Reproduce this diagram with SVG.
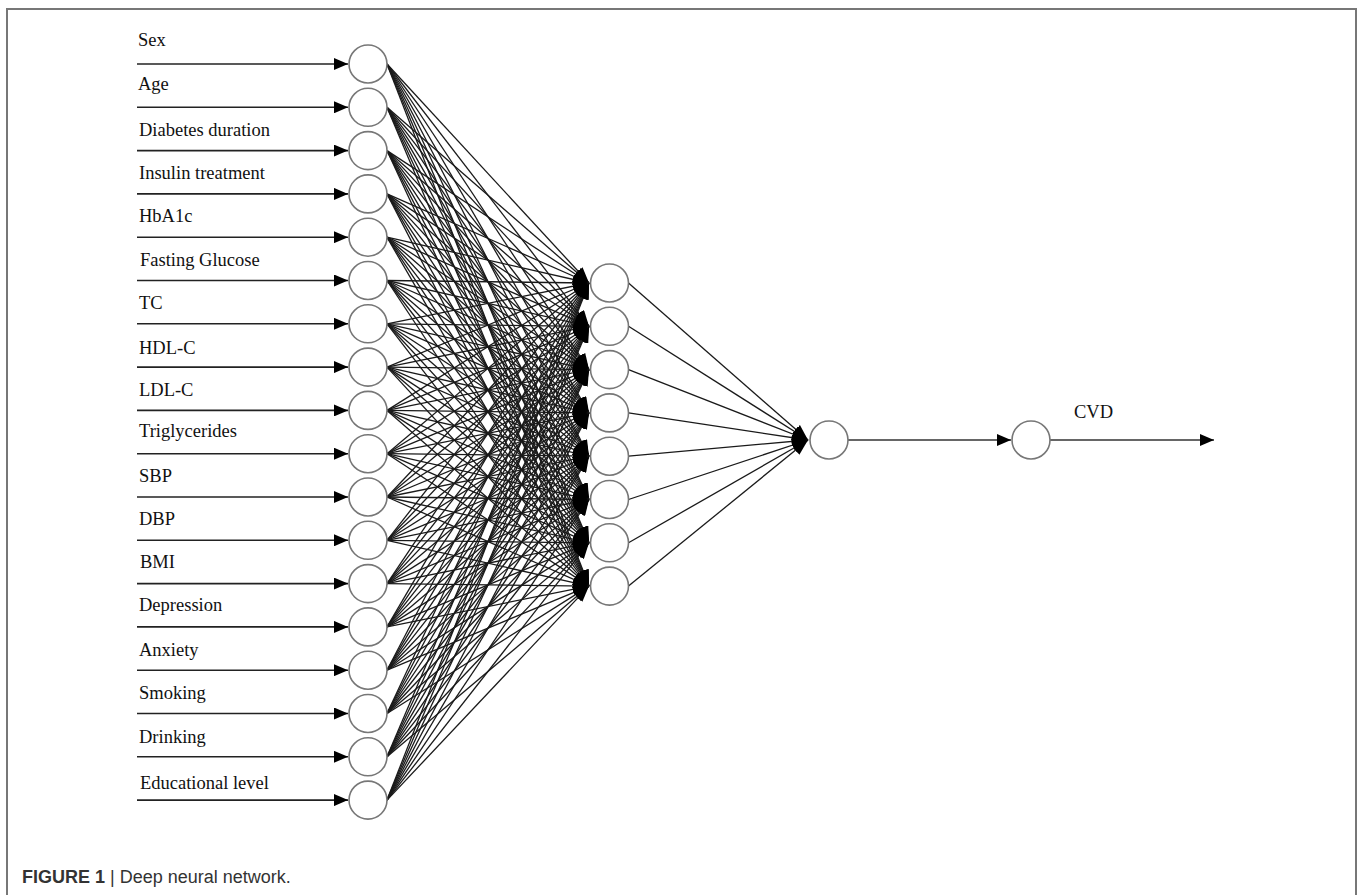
<svg xmlns="http://www.w3.org/2000/svg" width="1360" height="895" viewBox="0 0 1360 895">
<defs>
<marker id="a" viewBox="0 0 16 12" refX="16" refY="6" markerWidth="16" markerHeight="12" markerUnits="userSpaceOnUse" orient="auto"><path d="M0,0 L16,6 L0,12 z" fill="#000"/></marker>
<marker id="b" viewBox="0 0 14 12" refX="14" refY="6" markerWidth="14" markerHeight="12" markerUnits="userSpaceOnUse" orient="auto"><path d="M0,0 L14,6 L0,12 z" fill="#000"/></marker>
</defs>
<style>
.frame{fill:none;stroke:#777;stroke-width:2}
.lbl{font-family:"Liberation Serif","Times New Roman",serif;font-size:18.5px;fill:#111}
.in line{stroke:#222;stroke-width:1.6;marker-end:url(#b)}
.c line{stroke:#1a1a1a;stroke-width:1.3;marker-end:url(#a)}
.o line{stroke:#333;stroke-width:1.4;marker-end:url(#b)}
.n circle{fill:#fff;stroke:#777;stroke-width:1.6}
.cap{font-family:"Liberation Sans",Arial,sans-serif;font-size:18px;fill:#333}
</style>
<rect width="1360" height="895" fill="#fff"/>
<path class="frame" d="M7,895 V9 H1356 V895"/>
<g id="connectors">
<g class="in">
<line x1="137" y1="64" x2="348" y2="64"/>
<line x1="137" y1="107.3" x2="348" y2="107.3"/>
<line x1="137" y1="150.6" x2="348" y2="150.6"/>
<line x1="137" y1="193.9" x2="348" y2="193.9"/>
<line x1="137" y1="237.2" x2="348" y2="237.2"/>
<line x1="137" y1="280.5" x2="348" y2="280.5"/>
<line x1="137" y1="323.8" x2="348" y2="323.8"/>
<line x1="137" y1="367.1" x2="348" y2="367.1"/>
<line x1="137" y1="410.4" x2="348" y2="410.4"/>
<line x1="137" y1="453.7" x2="348" y2="453.7"/>
<line x1="137" y1="497" x2="348" y2="497"/>
<line x1="137" y1="540.3" x2="348" y2="540.3"/>
<line x1="137" y1="583.6" x2="348" y2="583.6"/>
<line x1="137" y1="626.9" x2="348" y2="626.9"/>
<line x1="137" y1="670.2" x2="348" y2="670.2"/>
<line x1="137" y1="713.5" x2="348" y2="713.5"/>
<line x1="137" y1="756.8" x2="348" y2="756.8"/>
<line x1="137" y1="800.1" x2="348" y2="800.1"/>
</g>
<g class="c">
<line x1="387" y1="64" x2="589" y2="283"/><line x1="387" y1="64" x2="589" y2="326.3"/><line x1="387" y1="64" x2="589" y2="369.6"/><line x1="387" y1="64" x2="589" y2="412.9"/><line x1="387" y1="64" x2="589" y2="456.2"/><line x1="387" y1="64" x2="589" y2="499.5"/><line x1="387" y1="64" x2="589" y2="542.8"/><line x1="387" y1="64" x2="589" y2="586.1"/>
<line x1="387" y1="107.3" x2="589" y2="283"/><line x1="387" y1="107.3" x2="589" y2="326.3"/><line x1="387" y1="107.3" x2="589" y2="369.6"/><line x1="387" y1="107.3" x2="589" y2="412.9"/><line x1="387" y1="107.3" x2="589" y2="456.2"/><line x1="387" y1="107.3" x2="589" y2="499.5"/><line x1="387" y1="107.3" x2="589" y2="542.8"/><line x1="387" y1="107.3" x2="589" y2="586.1"/>
<line x1="387" y1="150.6" x2="589" y2="283"/><line x1="387" y1="150.6" x2="589" y2="326.3"/><line x1="387" y1="150.6" x2="589" y2="369.6"/><line x1="387" y1="150.6" x2="589" y2="412.9"/><line x1="387" y1="150.6" x2="589" y2="456.2"/><line x1="387" y1="150.6" x2="589" y2="499.5"/><line x1="387" y1="150.6" x2="589" y2="542.8"/><line x1="387" y1="150.6" x2="589" y2="586.1"/>
<line x1="387" y1="193.9" x2="589" y2="283"/><line x1="387" y1="193.9" x2="589" y2="326.3"/><line x1="387" y1="193.9" x2="589" y2="369.6"/><line x1="387" y1="193.9" x2="589" y2="412.9"/><line x1="387" y1="193.9" x2="589" y2="456.2"/><line x1="387" y1="193.9" x2="589" y2="499.5"/><line x1="387" y1="193.9" x2="589" y2="542.8"/><line x1="387" y1="193.9" x2="589" y2="586.1"/>
<line x1="387" y1="237.2" x2="589" y2="283"/><line x1="387" y1="237.2" x2="589" y2="326.3"/><line x1="387" y1="237.2" x2="589" y2="369.6"/><line x1="387" y1="237.2" x2="589" y2="412.9"/><line x1="387" y1="237.2" x2="589" y2="456.2"/><line x1="387" y1="237.2" x2="589" y2="499.5"/><line x1="387" y1="237.2" x2="589" y2="542.8"/><line x1="387" y1="237.2" x2="589" y2="586.1"/>
<line x1="387" y1="280.5" x2="589" y2="283"/><line x1="387" y1="280.5" x2="589" y2="326.3"/><line x1="387" y1="280.5" x2="589" y2="369.6"/><line x1="387" y1="280.5" x2="589" y2="412.9"/><line x1="387" y1="280.5" x2="589" y2="456.2"/><line x1="387" y1="280.5" x2="589" y2="499.5"/><line x1="387" y1="280.5" x2="589" y2="542.8"/><line x1="387" y1="280.5" x2="589" y2="586.1"/>
<line x1="387" y1="323.8" x2="589" y2="283"/><line x1="387" y1="323.8" x2="589" y2="326.3"/><line x1="387" y1="323.8" x2="589" y2="369.6"/><line x1="387" y1="323.8" x2="589" y2="412.9"/><line x1="387" y1="323.8" x2="589" y2="456.2"/><line x1="387" y1="323.8" x2="589" y2="499.5"/><line x1="387" y1="323.8" x2="589" y2="542.8"/><line x1="387" y1="323.8" x2="589" y2="586.1"/>
<line x1="387" y1="367.1" x2="589" y2="283"/><line x1="387" y1="367.1" x2="589" y2="326.3"/><line x1="387" y1="367.1" x2="589" y2="369.6"/><line x1="387" y1="367.1" x2="589" y2="412.9"/><line x1="387" y1="367.1" x2="589" y2="456.2"/><line x1="387" y1="367.1" x2="589" y2="499.5"/><line x1="387" y1="367.1" x2="589" y2="542.8"/><line x1="387" y1="367.1" x2="589" y2="586.1"/>
<line x1="387" y1="410.4" x2="589" y2="283"/><line x1="387" y1="410.4" x2="589" y2="326.3"/><line x1="387" y1="410.4" x2="589" y2="369.6"/><line x1="387" y1="410.4" x2="589" y2="412.9"/><line x1="387" y1="410.4" x2="589" y2="456.2"/><line x1="387" y1="410.4" x2="589" y2="499.5"/><line x1="387" y1="410.4" x2="589" y2="542.8"/><line x1="387" y1="410.4" x2="589" y2="586.1"/>
<line x1="387" y1="453.7" x2="589" y2="283"/><line x1="387" y1="453.7" x2="589" y2="326.3"/><line x1="387" y1="453.7" x2="589" y2="369.6"/><line x1="387" y1="453.7" x2="589" y2="412.9"/><line x1="387" y1="453.7" x2="589" y2="456.2"/><line x1="387" y1="453.7" x2="589" y2="499.5"/><line x1="387" y1="453.7" x2="589" y2="542.8"/><line x1="387" y1="453.7" x2="589" y2="586.1"/>
<line x1="387" y1="497" x2="589" y2="283"/><line x1="387" y1="497" x2="589" y2="326.3"/><line x1="387" y1="497" x2="589" y2="369.6"/><line x1="387" y1="497" x2="589" y2="412.9"/><line x1="387" y1="497" x2="589" y2="456.2"/><line x1="387" y1="497" x2="589" y2="499.5"/><line x1="387" y1="497" x2="589" y2="542.8"/><line x1="387" y1="497" x2="589" y2="586.1"/>
<line x1="387" y1="540.3" x2="589" y2="283"/><line x1="387" y1="540.3" x2="589" y2="326.3"/><line x1="387" y1="540.3" x2="589" y2="369.6"/><line x1="387" y1="540.3" x2="589" y2="412.9"/><line x1="387" y1="540.3" x2="589" y2="456.2"/><line x1="387" y1="540.3" x2="589" y2="499.5"/><line x1="387" y1="540.3" x2="589" y2="542.8"/><line x1="387" y1="540.3" x2="589" y2="586.1"/>
<line x1="387" y1="583.6" x2="589" y2="283"/><line x1="387" y1="583.6" x2="589" y2="326.3"/><line x1="387" y1="583.6" x2="589" y2="369.6"/><line x1="387" y1="583.6" x2="589" y2="412.9"/><line x1="387" y1="583.6" x2="589" y2="456.2"/><line x1="387" y1="583.6" x2="589" y2="499.5"/><line x1="387" y1="583.6" x2="589" y2="542.8"/><line x1="387" y1="583.6" x2="589" y2="586.1"/>
<line x1="387" y1="626.9" x2="589" y2="283"/><line x1="387" y1="626.9" x2="589" y2="326.3"/><line x1="387" y1="626.9" x2="589" y2="369.6"/><line x1="387" y1="626.9" x2="589" y2="412.9"/><line x1="387" y1="626.9" x2="589" y2="456.2"/><line x1="387" y1="626.9" x2="589" y2="499.5"/><line x1="387" y1="626.9" x2="589" y2="542.8"/><line x1="387" y1="626.9" x2="589" y2="586.1"/>
<line x1="387" y1="670.2" x2="589" y2="283"/><line x1="387" y1="670.2" x2="589" y2="326.3"/><line x1="387" y1="670.2" x2="589" y2="369.6"/><line x1="387" y1="670.2" x2="589" y2="412.9"/><line x1="387" y1="670.2" x2="589" y2="456.2"/><line x1="387" y1="670.2" x2="589" y2="499.5"/><line x1="387" y1="670.2" x2="589" y2="542.8"/><line x1="387" y1="670.2" x2="589" y2="586.1"/>
<line x1="387" y1="713.5" x2="589" y2="283"/><line x1="387" y1="713.5" x2="589" y2="326.3"/><line x1="387" y1="713.5" x2="589" y2="369.6"/><line x1="387" y1="713.5" x2="589" y2="412.9"/><line x1="387" y1="713.5" x2="589" y2="456.2"/><line x1="387" y1="713.5" x2="589" y2="499.5"/><line x1="387" y1="713.5" x2="589" y2="542.8"/><line x1="387" y1="713.5" x2="589" y2="586.1"/>
<line x1="387" y1="756.8" x2="589" y2="283"/><line x1="387" y1="756.8" x2="589" y2="326.3"/><line x1="387" y1="756.8" x2="589" y2="369.6"/><line x1="387" y1="756.8" x2="589" y2="412.9"/><line x1="387" y1="756.8" x2="589" y2="456.2"/><line x1="387" y1="756.8" x2="589" y2="499.5"/><line x1="387" y1="756.8" x2="589" y2="542.8"/><line x1="387" y1="756.8" x2="589" y2="586.1"/>
<line x1="387" y1="800.1" x2="589" y2="283"/><line x1="387" y1="800.1" x2="589" y2="326.3"/><line x1="387" y1="800.1" x2="589" y2="369.6"/><line x1="387" y1="800.1" x2="589" y2="412.9"/><line x1="387" y1="800.1" x2="589" y2="456.2"/><line x1="387" y1="800.1" x2="589" y2="499.5"/><line x1="387" y1="800.1" x2="589" y2="542.8"/><line x1="387" y1="800.1" x2="589" y2="586.1"/>
</g>
<g class="c">
<line x1="628.5" y1="283" x2="808" y2="440"/>
<line x1="628.5" y1="326.3" x2="808" y2="440"/>
<line x1="628.5" y1="369.6" x2="808" y2="440"/>
<line x1="628.5" y1="412.9" x2="808" y2="440"/>
<line x1="628.5" y1="456.2" x2="808" y2="440"/>
<line x1="628.5" y1="499.5" x2="808" y2="440"/>
<line x1="628.5" y1="542.8" x2="808" y2="440"/>
<line x1="628.5" y1="586.1" x2="808" y2="440"/>
</g>
<g class="o">
<line x1="848" y1="440" x2="1011" y2="440"/>
<line x1="1050" y1="440" x2="1214" y2="440"/>
</g>
</g>
<g id="input-nodes" class="n">
<g id="n-sex"><circle cx="368" cy="64" r="19"/></g>
<g id="n-age"><circle cx="368" cy="107.3" r="19"/></g>
<g id="n-diab"><circle cx="368" cy="150.6" r="19"/></g>
<g id="n-ins"><circle cx="368" cy="193.9" r="19"/></g>
<g id="n-hba1c"><circle cx="368" cy="237.2" r="19"/></g>
<g id="n-fg"><circle cx="368" cy="280.5" r="19"/></g>
<g id="n-tc"><circle cx="368" cy="323.8" r="19"/></g>
<g id="n-hdl"><circle cx="368" cy="367.1" r="19"/></g>
<g id="n-ldl"><circle cx="368" cy="410.4" r="19"/></g>
<g id="n-tg"><circle cx="368" cy="453.7" r="19"/></g>
<g id="n-sbp"><circle cx="368" cy="497" r="19"/></g>
<g id="n-dbp"><circle cx="368" cy="540.3" r="19"/></g>
<g id="n-bmi"><circle cx="368" cy="583.6" r="19"/></g>
<g id="n-dep"><circle cx="368" cy="626.9" r="19"/></g>
<g id="n-anx"><circle cx="368" cy="670.2" r="19"/></g>
<g id="n-smk"><circle cx="368" cy="713.5" r="19"/></g>
<g id="n-drk"><circle cx="368" cy="756.8" r="19"/></g>
<g id="n-edu"><circle cx="368" cy="800.1" r="19"/></g>
</g>
<g id="hidden-nodes" class="n">
<g id="h1"><circle cx="609.5" cy="283" r="19"/></g>
<g id="h2"><circle cx="609.5" cy="326.3" r="19"/></g>
<g id="h3"><circle cx="609.5" cy="369.6" r="19"/></g>
<g id="h4"><circle cx="609.5" cy="412.9" r="19"/></g>
<g id="h5"><circle cx="609.5" cy="456.2" r="19"/></g>
<g id="h6"><circle cx="609.5" cy="499.5" r="19"/></g>
<g id="h7"><circle cx="609.5" cy="542.8" r="19"/></g>
<g id="h8"><circle cx="609.5" cy="586.1" r="19"/></g>
</g>
<g id="h-out" class="n"><circle cx="829" cy="440" r="19"/></g>
<g id="out" class="n"><circle cx="1031" cy="440" r="19"/></g>
<g id="labels" class="lbl">
<text x="138" y="46">Sex</text>
<text x="138" y="90">Age</text>
<text x="139" y="136">Diabetes duration</text>
<text x="139" y="179">Insulin treatment</text>
<text x="139" y="222">HbA1c</text>
<text x="140" y="266">Fasting Glucose</text>
<text x="139" y="309">TC</text>
<text x="139" y="354">HDL-C</text>
<text x="139" y="396">LDL-C</text>
<text x="139" y="437">Triglycerides</text>
<text x="139" y="482">SBP</text>
<text x="139" y="525">DBP</text>
<text x="140" y="568">BMI</text>
<text x="139" y="611">Depression</text>
<text x="139" y="656">Anxiety</text>
<text x="139" y="699">Smoking</text>
<text x="139" y="743">Drinking</text>
<text x="140" y="789">Educational level</text>
<text x="1074" y="418">CVD</text>
</g>
<text class="cap" x="22" y="883"><tspan font-weight="bold">FIGURE 1</tspan> | Deep neural network.</text>
</svg>
